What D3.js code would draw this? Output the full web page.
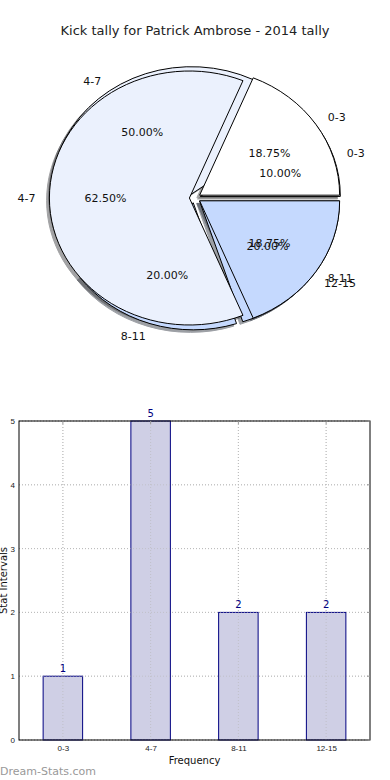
<!DOCTYPE html>
<meta charset="utf-8">
<style>
body{margin:0;background:#fff;}
svg{font-family:"DejaVu Sans",sans-serif;}
.wedge{stroke:#000;stroke-width:1px;vector-effect:non-scaling-stroke;}
.shadow{stroke-width:1px;vector-effect:non-scaling-stroke;}
.grid line{stroke:#bbb;stroke-dasharray:1,2;}
</style>
<body>
<script src="https://cdn.jsdelivr.net/npm/d3@7"></script>
<script>
// 2014 tally (outer pie drawn first)
var cats2014 = ["0-3", "4-7", "8-11", "12-15"];
var vals2014 = [1, 5, 2, 2];
// second tally drawn on top
var catsAll = ["0-3", "4-7", "8-11"];
var valsAll = [3, 10, 3];
var pieColors = ["#ffffff", "#ebf1fd", "#c5d9fe", "#c5d9fe"];

var barCats = ["0-3", "4-7", "8-11", "12-15"];
var barVals = [1, 5, 2, 2];
var yTicks = [0, 1, 2, 3, 4, 5];

var W = 390, H = 780;
var svg = d3.select("body").append("svg").attr("width", W).attr("height", H);

svg.append("text").attr("x", 195).attr("y", 35).attr("text-anchor", "middle")
    .style("font-size", "13px").attr("fill", "#222")
    .text("Kick tally for Patrick Ambrose - 2014 tally");

// ---- pie ----
var cx = 195, cy = 198, rx = 140, ry = 127, explode = 0.04;
var sy = ry / rx;
var pie = d3.pie().sort(null).startAngle(Math.PI / 2).endAngle(Math.PI / 2 - 2 * Math.PI);
var arc = d3.arc().innerRadius(0).outerRadius(rx);

function prep(cats, vals){
    return pie(vals).map(function(d, i){
        var m = (d.startAngle + d.endAngle) / 2;
        return {arc:d, cat:cats[i], color:pieColors[i], mid:m,
                dx:Math.sin(m) * explode * rx, dy:-Math.cos(m) * explode * rx,
                pct:(d.value / d3.sum(vals) * 100).toFixed(2) + "%"};
    });
}
var slices1 = prep(cats2014, vals2014), slices2 = prep(catsAll, valsAll);
var all = slices1.concat(slices2);

var pg = svg.append("g").attr("transform", "translate(" + cx + "," + cy + ") scale(1," + sy + ")");

function darker(c){
    var k = d3.rgb(c);
    return d3.rgb(k.r * 0.3, k.g * 0.3, k.b * 0.3).toString();
}
// shadows go under every wedge
pg.selectAll(".shadow").data(all).enter().append("path")
    .attr("class", "shadow")
    .attr("transform", function(d){ return "translate(" + (d.dx - 0.02 * rx) + "," + (d.dy + 0.02 * rx) + ")"; })
    .attr("d", function(d){ return arc(d.arc); })
    .attr("fill", function(d){ return darker(d.color); })
    .attr("stroke", function(d){ return darker(d.color); })
    .attr("opacity", 0.5);

pg.selectAll(".wedge").data(all).enter().append("path")
    .attr("class", "wedge")
    .attr("transform", function(d){ return "translate(" + d.dx + "," + d.dy + ")"; })
    .attr("d", function(d){ return arc(d.arc); })
    .attr("fill", function(d){ return d.color; });

function labels(sl){
    sl.forEach(function(d){
        var s = Math.sin(d.mid), c = -Math.cos(d.mid);
        var lx = cx + (1.1 + explode) * rx * s, ly = cy + (1.1 + explode) * ry * c;
        svg.append("text").attr("x", lx).attr("y", ly).attr("dy", "0.35em")
            .attr("text-anchor", s >= 0 ? "start" : "end")
            .style("font-size", "11px").attr("fill", "#111").text(d.cat);
        var px = cx + (0.6 + explode) * rx * s, py = cy + (0.6 + explode) * ry * c;
        svg.append("text").attr("x", px).attr("y", py).attr("dy", "0.35em")
            .attr("text-anchor", "middle")
            .style("font-size", "11px").attr("fill", "#111").text(d.pct);
    });
}
labels(slices1);
labels(slices2);

// ---- bar chart ----
var x0 = 19, x1 = 370, y0 = 740, y1 = 421;
var x = d3.scaleLinear().domain([-0.5, barCats.length - 0.5]).range([x0, x1]);
var y = d3.scaleLinear().domain([0, 5]).range([y0, y1]);
var bw = 0.45;

var grid = svg.append("g").attr("class", "grid");
grid.selectAll(".gy").data(yTicks).enter().append("line")
    .attr("x1", x0).attr("x2", x1).attr("y1", function(d){ return y(d); }).attr("y2", function(d){ return y(d); });
grid.selectAll(".gx").data(barCats).enter().append("line")
    .attr("y1", y0).attr("y2", y1).attr("x1", function(d, i){ return x(i); }).attr("x2", function(d, i){ return x(i); });

svg.selectAll(".bar").data(barVals).enter().append("rect")
    .attr("x", function(d, i){ return x(i - bw / 2); })
    .attr("width", x(bw) - x(0))
    .attr("y", function(d){ return y(d); })
    .attr("height", function(d){ return y0 - y(d); })
    .attr("fill", "#ccccE4").attr("fill-opacity", 0.95)
    .attr("stroke", "#000080").attr("stroke-width", 1);

// grid shows faintly through the bars
var grid2 = svg.append("g").attr("class", "grid").attr("opacity", 0.6);
grid2.selectAll("line").data(barCats).enter().append("line")
    .attr("y1", y0).attr("y2", y1).attr("x1", function(d, i){ return x(i); }).attr("x2", function(d, i){ return x(i); });
grid2.selectAll(".h").data(yTicks).enter().append("line")
    .attr("x1", x0).attr("x2", x1).attr("y1", function(d){ return y(d); }).attr("y2", function(d){ return y(d); });

svg.selectAll(".val").data(barVals).enter().append("text")
    .attr("x", function(d, i){ return x(i); }).attr("y", function(d){ return y(d) - 4; })
    .attr("text-anchor", "middle").style("font-size", "10px").attr("fill", "#000080")
    .text(function(d){ return d; });

svg.append("rect").attr("x", x0).attr("y", y1).attr("width", x1 - x0).attr("height", y0 - y1)
    .attr("fill", "none").attr("stroke", "#000").attr("stroke-width", 1);

var ay = d3.axisLeft(y).tickValues(yTicks).tickFormat(d3.format("d")).tickSize(0).tickPadding(4);
svg.append("g").attr("transform", "translate(" + x0 + ",0)").call(ay)
    .call(function(g){ g.select(".domain").remove(); })
    .selectAll("text").style("font-size", "8px").attr("fill", "#222");
var ax = d3.axisBottom(x).tickValues(d3.range(barCats.length)).tickFormat(function(i){ return barCats[i]; })
    .tickSize(0).tickPadding(5);
svg.append("g").attr("transform", "translate(0," + y0 + ")").call(ax)
    .call(function(g){ g.select(".domain").remove(); })
    .selectAll("text").style("font-size", "8px").attr("fill", "#222");

// small inward tick marks
svg.selectAll(".ty").data(yTicks).enter().append("line")
    .attr("x1", x1 - 3).attr("x2", x1).attr("y1", function(d){ return y(d); }).attr("y2", function(d){ return y(d); })
    .attr("stroke", "#999");
svg.selectAll(".tx").data(barCats).enter().append("line")
    .attr("x1", function(d, i){ return x(i); }).attr("x2", function(d, i){ return x(i); })
    .attr("y1", y1).attr("y2", y1 + 3).attr("stroke", "#999");

svg.append("text").attr("x", (x0 + x1) / 2).attr("y", 764).attr("text-anchor", "middle")
    .style("font-size", "10px").attr("fill", "#111").text("Frequency");
svg.append("text").attr("transform", "translate(7," + ((y0 + y1) / 2) + ") rotate(-90)")
    .attr("text-anchor", "middle").style("font-size", "10px").attr("fill", "#111").text("Stat Intervals");

svg.append("text").attr("x", 0).attr("y", 775).style("font-size", "11px")
    .attr("fill", "#999").text("Dream-Stats.com");
</script>
</body>
